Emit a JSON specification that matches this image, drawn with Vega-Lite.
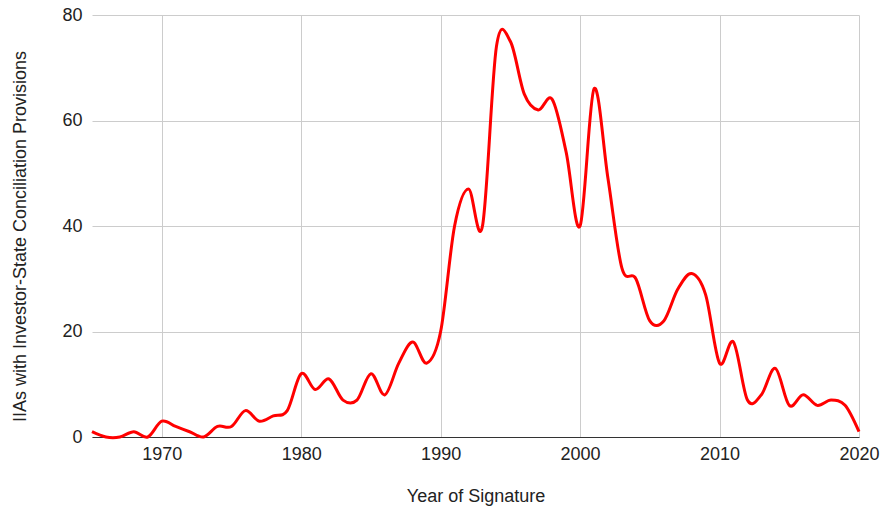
{
  "$schema": "https://vega.github.io/schema/vega-lite/v6.json",
  "autosize": "none",
  "width": 767,
  "height": 422,
  "padding": {"left": 92, "top": 15, "right": 22, "bottom": 72},
  "background": "white",
  "config": {
    "view": {"stroke": null},
    "font": "Liberation Sans",
    "axis": {"labelFont": "Liberation Sans", "titleFont": "Liberation Sans", "labelColor": "#222222", "titleColor": "#222222", "labelFontSize": 18, "titleFontSize": 18, "titleFontWeight": "normal", "gridColor": "#cccccc", "gridWidth": 1, "ticks": false}
  },
  "data": {
    "values": [
      {"year": 1965, "count": 1},
      {"year": 1966, "count": 0},
      {"year": 1967, "count": 0},
      {"year": 1968, "count": 1},
      {"year": 1969, "count": 0},
      {"year": 1970, "count": 3},
      {"year": 1971, "count": 2},
      {"year": 1972, "count": 1},
      {"year": 1973, "count": 0},
      {"year": 1974, "count": 2},
      {"year": 1975, "count": 2},
      {"year": 1976, "count": 5},
      {"year": 1977, "count": 3},
      {"year": 1978, "count": 4},
      {"year": 1979, "count": 5},
      {"year": 1980, "count": 12},
      {"year": 1981, "count": 9},
      {"year": 1982, "count": 11},
      {"year": 1983, "count": 7},
      {"year": 1984, "count": 7},
      {"year": 1985, "count": 12},
      {"year": 1986, "count": 8},
      {"year": 1987, "count": 14},
      {"year": 1988, "count": 18},
      {"year": 1989, "count": 14},
      {"year": 1990, "count": 20},
      {"year": 1991, "count": 40},
      {"year": 1992, "count": 47},
      {"year": 1993, "count": 40},
      {"year": 1994, "count": 74},
      {"year": 1995, "count": 75},
      {"year": 1996, "count": 65},
      {"year": 1997, "count": 62},
      {"year": 1998, "count": 64},
      {"year": 1999, "count": 54},
      {"year": 2000, "count": 40},
      {"year": 2001, "count": 66},
      {"year": 2002, "count": 49},
      {"year": 2003, "count": 32},
      {"year": 2004, "count": 30},
      {"year": 2005, "count": 22},
      {"year": 2006, "count": 22},
      {"year": 2007, "count": 28},
      {"year": 2008, "count": 31},
      {"year": 2009, "count": 27},
      {"year": 2010, "count": 14},
      {"year": 2011, "count": 18},
      {"year": 2012, "count": 7},
      {"year": 2013, "count": 8},
      {"year": 2014, "count": 13},
      {"year": 2015, "count": 6},
      {"year": 2016, "count": 8},
      {"year": 2017, "count": 6},
      {"year": 2018, "count": 7},
      {"year": 2019, "count": 6},
      {"year": 2020, "count": 1}
    ]
  },
  "mark": {"type": "line", "color": "#ff0000", "strokeWidth": 3, "interpolate": "cardinal", "clip": false},
  "encoding": {
    "x": {
      "field": "year", "type": "quantitative",
      "scale": {"domain": [1965, 2020], "nice": false, "zero": false},
      "axis": {"title": "Year of Signature", "values": [1970, 1980, 1990, 2000, 2010, 2020], "format": "d", "labelPadding": 8, "titlePadding": 24, "domainColor": "#333333", "domainWidth": 1, "labelFlush": false}
    },
    "y": {
      "field": "count", "type": "quantitative",
      "scale": {"domain": [0, 80], "nice": false},
      "axis": {"title": "IIAs with Investor-State Conciliation Provisions", "values": [0, 20, 40, 60, 80], "labelPadding": 10, "titlePadding": 32, "titleY": 221, "domain": false}
    }
  }
}
